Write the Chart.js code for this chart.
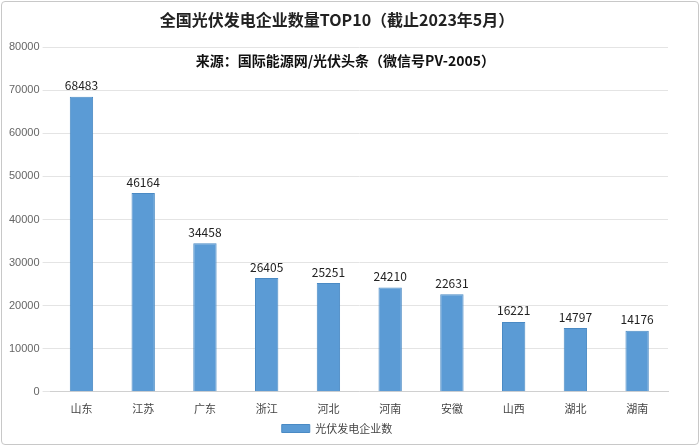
<!DOCTYPE html>
<html>
<head>
<meta charset="utf-8">
<script src="https://cdn.jsdelivr.net/npm/chart.js@4"></script>
<style>
body { margin: 0; background: #fff; }
#wrap { position: absolute; left: 1px; top: 1px; width: 696px; height: 442px; border: 1px solid #c8c8c8; border-radius: 4px; }
</style>
</head>
<body>
<div id="wrap"><canvas id="myChart" width="696" height="442"></canvas></div>
<script>
var provinces = ['山东', '江苏', '广东', '浙江', '河北', '河南', '安徽', '山西', '湖北', '湖南'];
var companyCount = [68483, 46164, 34458, 26405, 25251, 24210, 22631, 16221, 14797, 14176];

var labelPlugin = {
    id: 'labels',
    afterDatasetsDraw: function (chart) {
        var ctx = chart.ctx;
        ctx.save();
        ctx.font = '12px "Noto Sans CJK SC", sans-serif';
        ctx.fillStyle = '#222';
        ctx.textAlign = 'center';
        ctx.textBaseline = 'bottom';
        chart.getDatasetMeta(0).data.forEach(function (bar, i) {
            ctx.fillText(companyCount[i], bar.x, bar.y - 5);
        });
        ctx.font = 'bold 14px "Noto Sans CJK SC", sans-serif';
        ctx.fillStyle = '#111';
        ctx.fillText('来源：国际能源网/光伏头条（微信号PV-2005）', (chart.chartArea.left + chart.chartArea.right) / 2 - 14, chart.chartArea.top + 20);
        ctx.restore();
    }
};

new Chart(document.getElementById('myChart'), {
    type: 'bar',
    data: {
        labels: provinces,
        datasets: [{
            label: '光伏发电企业数',
            data: companyCount,
            backgroundColor: '#5b9bd5',
            borderColor: '#4a8ac4',
            borderWidth: 1,
            categoryPercentage: 0.9,
            barPercentage: 0.42
        }]
    },
    options: {
        responsive: false,
        animation: false,
        layout: { padding: { left: 4, right: 30, top: 0, bottom: 0 } },
        plugins: {
            title: {
                display: true,
                text: '全国光伏发电企业数量TOP10（截止2023年5月）',
                color: '#222',
                font: { size: 16, weight: 'bold', family: '"Noto Sans CJK SC", sans-serif' },
                padding: { top: 8, bottom: 18 }
            },
            legend: {
                position: 'bottom',
                labels: {
                    boxWidth: 28, boxHeight: 8, color: '#444', padding: 6,
                    font: { size: 11, family: '"Noto Sans CJK SC", sans-serif' }
                }
            },
            tooltip: { enabled: false }
        },
        scales: {
            x: {
                grid: { display: false },
                border: { color: '#d0d0d0' },
                ticks: { color: '#444', padding: 2, font: { size: 11, family: '"Noto Sans CJK SC", sans-serif' } }
            },
            y: {
                min: 0, max: 80000,
                ticks: {
                    stepSize: 10000, color: '#666', font: { size: 11, family: 'Arial, sans-serif' },
                    callback: function (v) { return String(v); }
                },
                grid: { color: '#e4e4e4' },
                border: { display: false }
            }
        }
    },
    plugins: [labelPlugin]
});
</script>
</body>
</html>
